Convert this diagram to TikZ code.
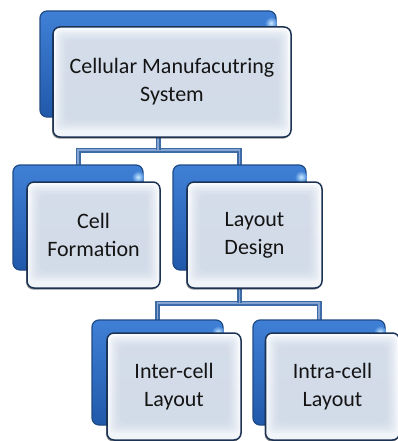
\documentclass[tikz,border=0pt]{standalone}
\usepackage{fontspec}
\setmainfont{Carlito}
\usetikzlibrary{calc,fadings,shadows}
\pgfdeclarelayer{bg}
\pgfsetlayers{bg,main}
\definecolor{bluetop}{HTML}{3F80D6}
\definecolor{bluebot}{HTML}{2159AA}
\definecolor{blueedge}{HTML}{1E4A85}
\definecolor{frontedge}{HTML}{1C3354}
\definecolor{fronttop}{HTML}{F8FAFD}
\definecolor{frontbot}{HTML}{F1F4F9}
\definecolor{bevelc}{HTML}{C4D0E2}
\definecolor{connout}{HTML}{3D6BA5}
\definecolor{connin}{HTML}{86A5D2}
\definecolor{glowc}{HTML}{C8EAFF}
\definecolor{textc}{HTML}{141414}
\begin{document}
\begin{tikzpicture}[x=1pt,y=-1pt,
  backbox/.style={rounded corners=7pt, top color=bluetop, bottom color=bluebot,
    draw=blueedge, line width=1.2pt, inner sep=0pt, outer sep=0pt},
  frontbox/.style={rounded corners=7pt, draw=frontedge, line width=1.5pt,
    top color=fronttop, bottom color=frontbot, inner sep=0pt, outer sep=0pt,
    align=center, text=textc, font=\fontsize{22}{28}\selectfont,
    drop shadow={shadow xshift=-0.8pt, shadow yshift=-1.6pt, opacity=.45, fill=black},
    path picture={
      \foreach \d in {3,5,7,9,11,13}{
        \fill[bevelc, fill opacity=.16, rounded corners=5pt]
          ($(path picture bounding box.north west)+(\d,\d)$) rectangle
          ($(path picture bounding box.south east)+(-\d,-\d-4)$);
      }
    }},
  conn/.style={draw=connout, double=connin, double distance=1.4pt, line width=1.8pt},
  glow/.style={inner color=glowc, outer color=bluetop}]
\useasboundingbox (0,0) rectangle (398,441);

% back boxes
\node[backbox, minimum width=236pt, minimum height=106pt] (csb) at (158,64) {};
\node[backbox, minimum width=130pt, minimum height=105pt] (cfb) at (78,217.5) {};
\node[backbox, minimum width=133pt, minimum height=105pt] (ldb) at (239.5,217.5) {};
\node[backbox, minimum width=131pt, minimum height=105pt] (ieb) at (157.5,372.5) {};
\node[backbox, minimum width=132pt, minimum height=105pt] (iab) at (319,372.5) {};

% highlights
\shade[glow] ($(csb.north east)+(-5,12)$) circle (6);
\shade[glow] ($(cfb.north east)+(-5,12)$) circle (6);
\shade[glow] ($(ldb.north east)+(-5,12)$) circle (6);
\shade[glow] ($(ieb.north east)+(-5,12)$) circle (6);
\shade[glow] ($(iab.north east)+(-5,12)$) circle (6);

% front boxes
\node[frontbox, minimum width=238pt, minimum height=110pt] (cs) at (172,82) {Cellular Manufacutring\\System};
\node[frontbox, minimum width=133pt, minimum height=106pt] (cf) at (93.5,235) {Cell\\Formation};
\node[frontbox, minimum width=135pt, minimum height=106pt] (ld) at (254.5,235) {Layout\\Design};
\node[frontbox, minimum width=134pt, minimum height=107pt] (ie) at (174,386.5) {Inter-cell\\Layout};
\node[frontbox, minimum width=134pt, minimum height=107pt] (ia) at (332.5,386.5) {Intra-cell\\Layout};

% connectors
\coordinate (j1) at (158,150);
\coordinate (j2) at (239.5,303);
\begin{pgfonlayer}{bg}
\draw[conn] (cfb.north) |- (j1) -| (ldb.north);
\draw[conn] (csb.south) -- (j1);
\draw[conn] (ieb.north) |- (j2) -| (iab.north);
\draw[conn] (ldb.south) -- (j2);
\end{pgfonlayer}
\end{tikzpicture}
\end{document}
